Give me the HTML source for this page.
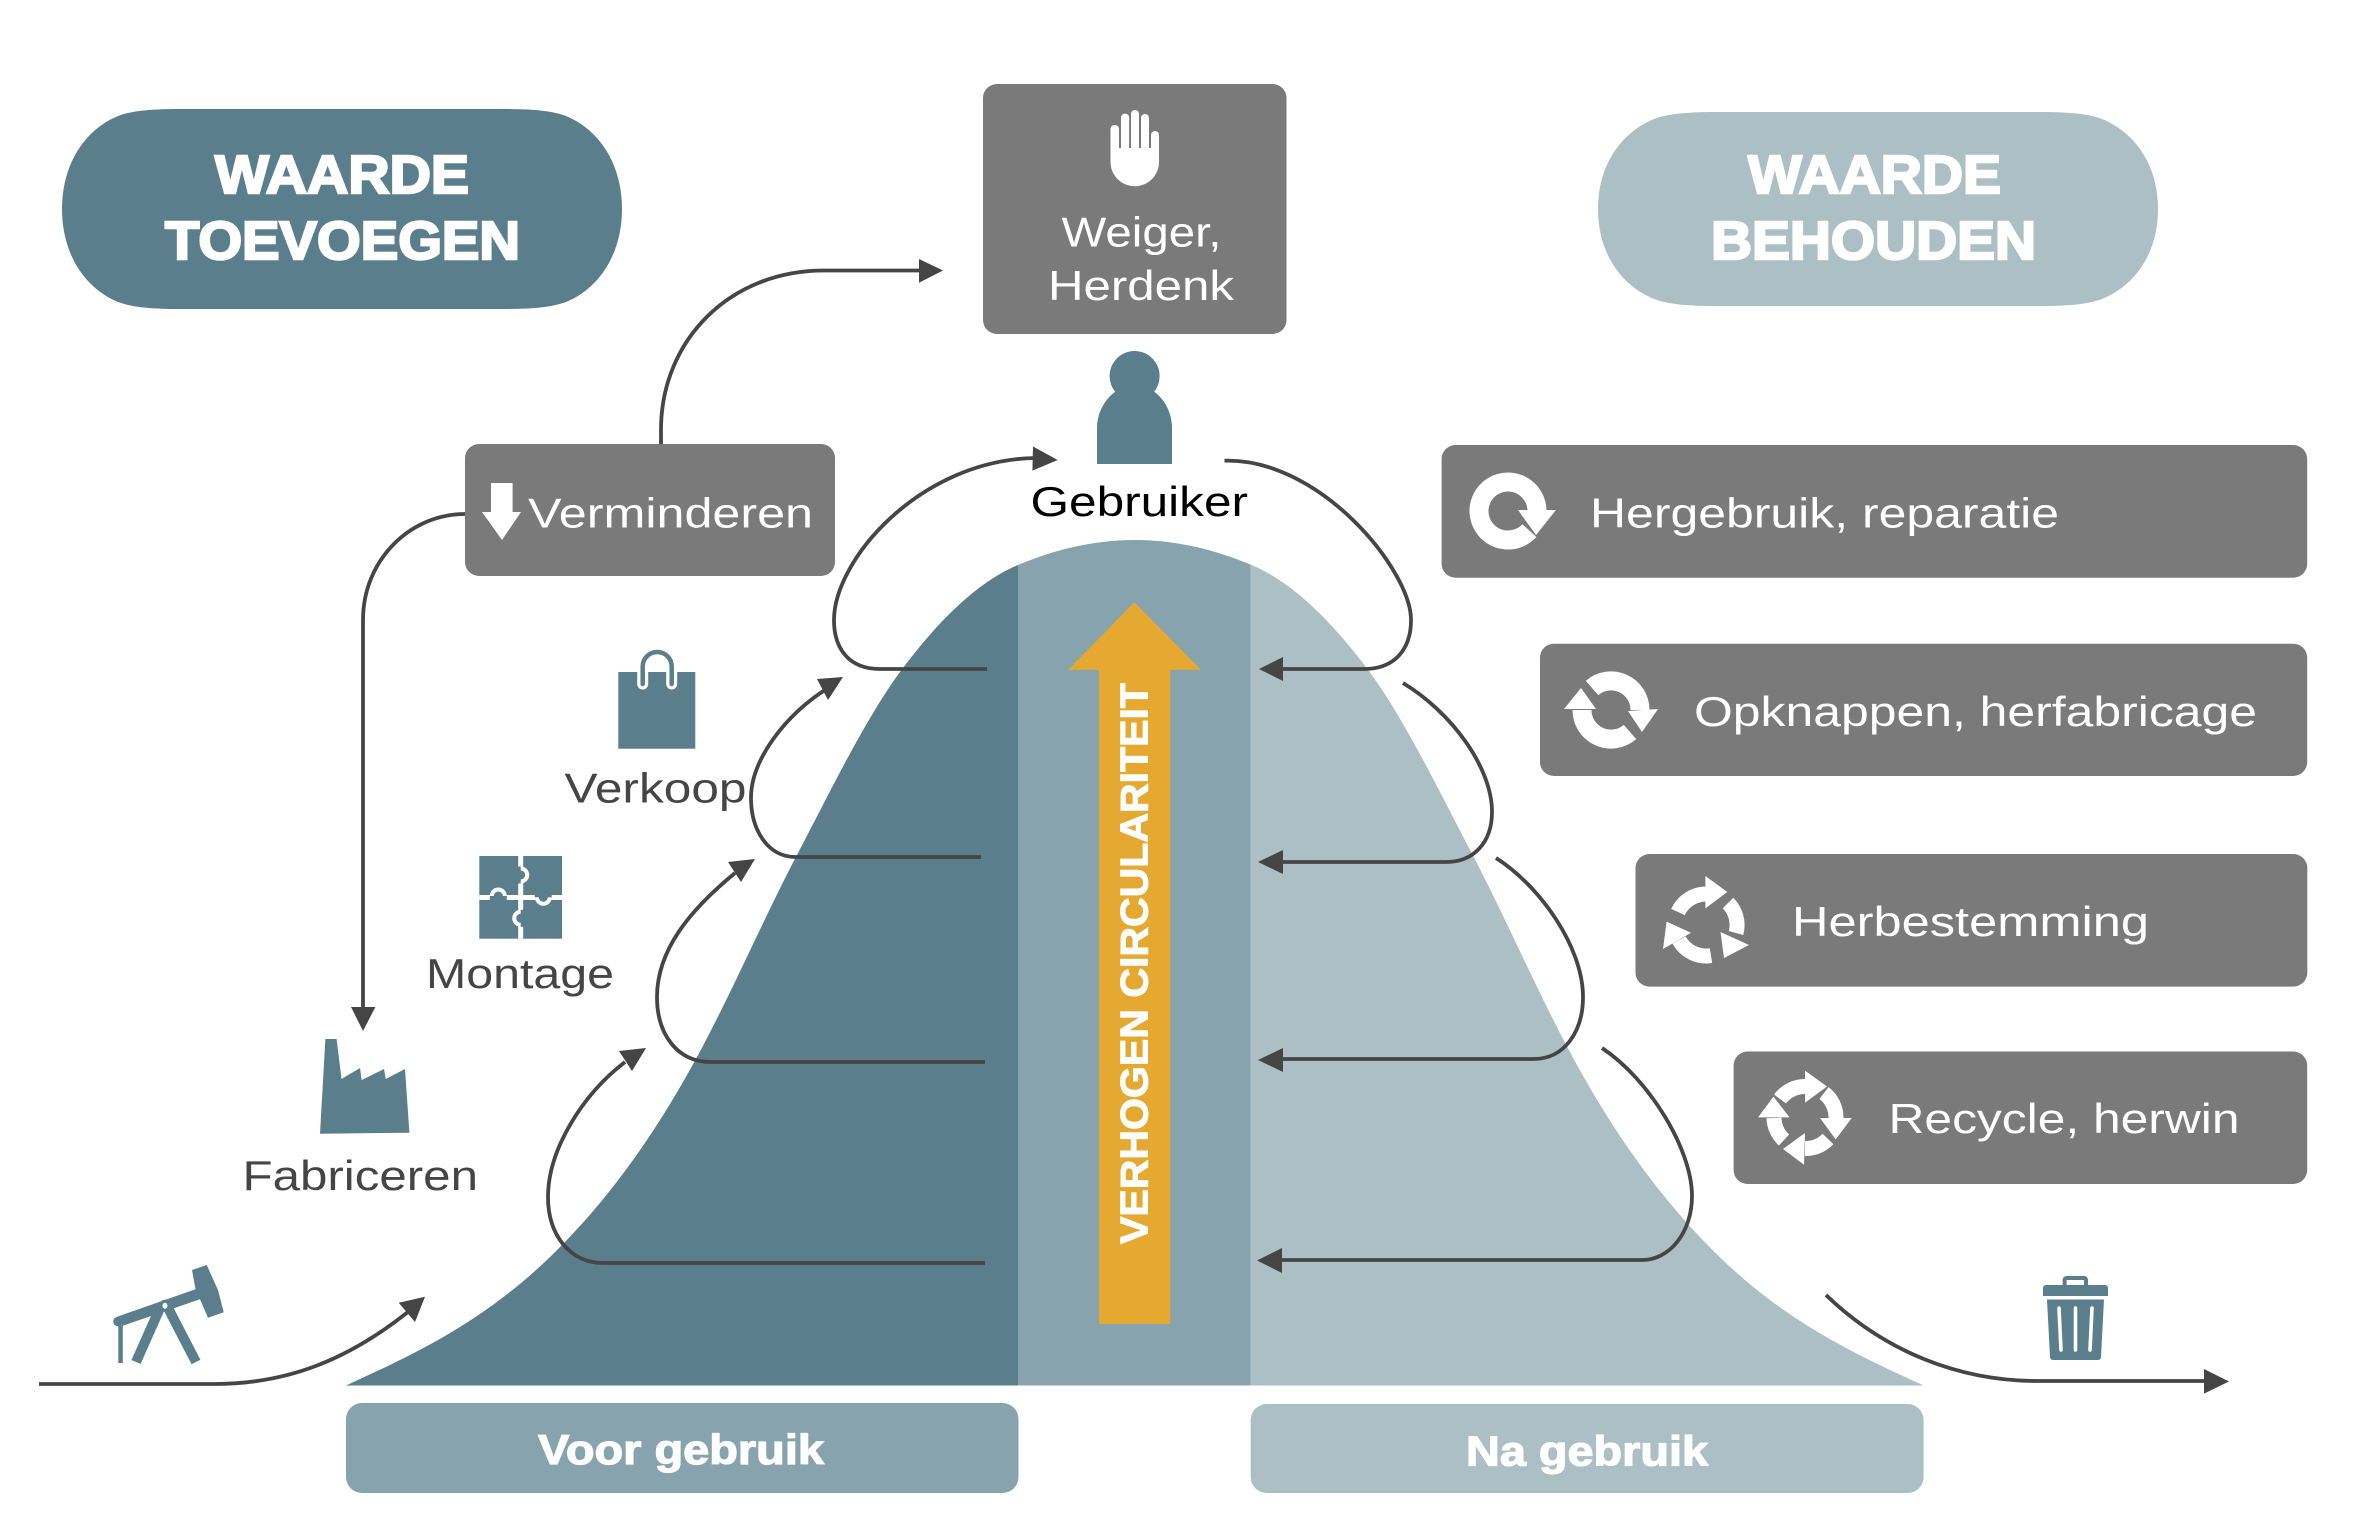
<!DOCTYPE html>
<html><head><meta charset="utf-8"><style>
html,body{margin:0;padding:0;background:#fff}
svg{display:block}
text{font-family:"Liberation Sans",sans-serif}
.w{fill:#fff;font-size:42px}
.d{fill:#454545;font-size:42px}
.h{fill:#fff;stroke:#fff;stroke-width:2.4px;font-weight:bold;font-size:54px}
.b{fill:#fff;stroke:#fff;stroke-width:1.2px;font-weight:bold;font-size:42px}
.l{fill:none;stroke:#454545;stroke-width:3.8}
.a{fill:#454545}
.t{fill:#5b7e8d}
.i{fill:none;stroke:#fff}
</style></head><body>
<svg width="2362" height="1513" viewBox="0 0 2362 1513" xmlns="http://www.w3.org/2000/svg">
<rect width="2362" height="1513" fill="#fff"/>
<defs>
<clipPath id="bell"><path d="M346 1385.5 C418 1352.6 490 1319 562 1245 C607 1199 652 1140 697 1057 C730.7 995 764.3 917 798 853 C832 788 866 718 900 672 C939.3 619 978.7 581.5 1018 565 C1057 548.6 1096 540 1134.8 540 C1173.6 540 1212.6 548.6 1251.6 565 C1290.9 581.5 1330.3 619 1369.6 672 C1403.6 718 1437.6 788 1471.6 853 C1505.3 917 1538.9 995 1572.6 1057 C1617.6 1140 1662.6 1199 1707.6 1245 C1779.6 1319 1851.6 1352.6 1923.6 1385.5 Z"/></clipPath>
</defs>

<!-- pills -->
<path fill="#5b7e8d" d="M180 109 H504 C540 109 555 112 566 116 C600 130 622 165 622 209 C622 253 600 288 566 302 C555 306 540 309 504 309 H180 C144 309 129 306 118 302 C84 288 62 253 62 209 C62 165 84 130 118 116 C129 112 144 109 180 109Z"/>
<text class="h" x="215" y="193" textLength="254" lengthAdjust="spacingAndGlyphs">WAARDE</text>
<text class="h" x="165" y="259" textLength="355" lengthAdjust="spacingAndGlyphs">TOEVOEGEN</text>
<path fill="#acbfc4" d="M1716 112 H2040 C2076 112 2091 115 2102 119 C2136 133 2158 166 2158 209 C2158 252 2136 285 2102 299 C2091 303 2076 306 2040 306 H1716 C1680 306 1665 303 1654 299 C1620 285 1598 252 1598 209 C1598 166 1620 133 1654 119 C1665 115 1680 112 1716 112Z"/>
<text class="h" x="1748" y="193" textLength="253" lengthAdjust="spacingAndGlyphs">WAARDE</text>
<text class="h" x="1711" y="259" textLength="325" lengthAdjust="spacingAndGlyphs">BEHOUDEN</text>

<!-- bell -->
<g clip-path="url(#bell)">
<rect x="340" y="530" width="678" height="856" fill="#5b7e8d"/>
<rect x="1018" y="530" width="232.7" height="856" fill="#87a4ae"/>
<rect x="1250.7" y="530" width="680" height="856" fill="#acbfc4"/>
</g>

<!-- orange arrow -->
<path fill="#e5a830" d="M1134.3 602.3 L1201 669.7 H1170.3 V1324 H1099 V669.7 H1068.3 Z"/>
<text transform="translate(1147.3 1244) rotate(-90)" x="0" y="0" fill="#fff" stroke="#fff" stroke-width="1" font-weight="bold" font-size="39" textLength="561" lengthAdjust="spacingAndGlyphs">VERHOGEN CIRCULARITEIT</text>

<!-- bottom labels -->
<rect x="346" y="1403" width="672.5" height="90" rx="16" fill="#87a4ae"/>
<text class="b" x="538" y="1464" textLength="286" lengthAdjust="spacingAndGlyphs">Voor gebruik</text>
<rect x="1250.7" y="1404" width="672.9" height="89" rx="16" fill="#acbfc4"/>
<text class="b" x="1466" y="1465.7" textLength="242" lengthAdjust="spacingAndGlyphs">Na gebruik</text>

<!-- grey boxes -->
<rect x="983" y="84" width="303.5" height="250" rx="14" fill="#7a7a7a"/>
<rect x="465" y="444" width="370" height="132" rx="14" fill="#7a7a7a"/>
<rect x="1441.6" y="445" width="865.6" height="132.7" rx="14" fill="#7a7a7a"/>
<rect x="1540" y="643.7" width="767.2" height="132.3" rx="14" fill="#7a7a7a"/>
<rect x="1635.5" y="854" width="671.8" height="132.6" rx="14" fill="#7a7a7a"/>
<rect x="1733.6" y="1051.5" width="573.6" height="132.5" rx="14" fill="#7a7a7a"/>

<!-- box text -->
<text class="w" x="1061.5" y="246.4" textLength="160" lengthAdjust="spacingAndGlyphs">Weiger,</text>
<text class="w" x="1048" y="300" textLength="186" lengthAdjust="spacingAndGlyphs">Herdenk</text>
<text class="w" x="528" y="527.7" textLength="285" lengthAdjust="spacingAndGlyphs">Verminderen</text>
<text class="w" x="1590" y="527.7" textLength="469" lengthAdjust="spacingAndGlyphs">Hergebruik, reparatie</text>
<text class="w" x="1694" y="726" textLength="563" lengthAdjust="spacingAndGlyphs">Opknappen, herfabricage</text>
<text class="w" x="1792" y="935.8" textLength="357" lengthAdjust="spacingAndGlyphs">Herbestemming</text>
<text class="w" x="1888.5" y="1133" textLength="351" lengthAdjust="spacingAndGlyphs">Recycle, herwin</text>

<text x="1030.5" y="516" fill="#000" font-size="42" textLength="217.5" lengthAdjust="spacingAndGlyphs">Gebruiker</text>
<text class="d" x="564.5" y="802.7" textLength="182" lengthAdjust="spacingAndGlyphs">Verkoop</text>
<text class="d" x="426" y="988" textLength="188" lengthAdjust="spacingAndGlyphs">Montage</text>
<text class="d" x="242.5" y="1190" textLength="235.5" lengthAdjust="spacingAndGlyphs">Fabriceren</text>

<!-- connectors -->
<path class="l" d="M661 444 V430 C661 340 730 270.5 824 270.5 H920"/>
<polygon class="a" points="919,259 943,270.5 919,282.7"/>
<path class="l" d="M465 514 C410 514 363 560 363 620 V1008"/>
<polygon class="a" points="351,1007 375.4,1007 363,1031"/>

<path class="l" d="M39 1384 H214 C290 1384 350 1358 408 1312"/>
<polygon class="a" points="398.7,1302.7 425,1296.7 415,1322"/>

<path class="l" d="M985 1263 H603 C570 1263 548 1235 548 1197 C548 1150 582 1095 625 1062"/>
<polygon class="a" points="619,1051 646,1048 632,1071"/>
<path class="l" d="M985 1062 H710 C678 1062 657 1035 657 997 C657 950 690 910 735 873"/>
<polygon class="a" points="728,862 755,859 741,882"/>
<path class="l" d="M981 857 H795 C768 857 751 830 751 798 C751 760 785 715 828 688"/>
<polygon class="a" points="817,679 843,677 828,700"/>
<path class="l" d="M987 669 H880 C850 669 834 650 834 620 C834 560 920 460 1035 458"/>
<polygon class="a" points="1033,446.5 1057.7,460 1032.4,470.6"/>

<path class="l" d="M1224.5 460.7 C1320 458 1411 570 1411 620 C1411 650 1394 669 1364 669 H1270"/>
<polygon class="a" points="1259,669 1283,657 1283,681"/>
<path class="l" d="M1403 683 C1451 712 1492 767 1492 812 C1492 842 1474 862 1446 862 H1270"/>
<polygon class="a" points="1258,862 1283,850 1283,874"/>
<path class="l" d="M1496 858 C1540 886 1583 947 1583 997 C1583 1032 1564 1059 1534 1059 H1270"/>
<polygon class="a" points="1258,1060 1283,1048 1283,1072"/>
<path class="l" d="M1602 1048 C1650 1080 1692 1150 1692 1196 C1692 1232 1670 1260 1642 1260 H1275"/>
<polygon class="a" points="1257,1260.5 1282,1248 1282,1273"/>

<path class="l" d="M1826 1295 C1885 1352 1960 1381 2037 1381 H2206"/>
<polygon class="a" points="2204,1369 2229,1381.5 2204,1393.6"/>

<!-- hand -->
<g fill="#fff">
<rect x="1110.5" y="125" width="8.5" height="40" rx="4"/>
<rect x="1121" y="113.6" width="8.2" height="50" rx="4"/>
<rect x="1131" y="110" width="8" height="52" rx="4"/>
<rect x="1141" y="114" width="8" height="50" rx="4"/>
<rect x="1151" y="131" width="8" height="36" rx="4"/>
<path d="M1110.5 148 H1159 V162 A24.25 24.25 0 0 1 1110.5 162 Z"/>
</g>
<g fill="#7a7a7a">
<rect x="1119" y="120" width="2" height="28"/><rect x="1129.2" y="120" width="1.8" height="28"/>
<rect x="1139" y="120" width="2" height="28"/><rect x="1149" y="125" width="2" height="23"/>
</g>

<!-- person -->
<circle class="t" cx="1134.6" cy="376" r="25"/>
<path class="t" d="M1097 464 V428 C1097 405 1115 385 1135 385 C1155 385 1172 405 1172 428 V464 Z"/>

<!-- down arrow -->
<path fill="#fff" d="M491 483 H512.6 V512 H521 L502 540 L482 512 H491 Z"/>

<!-- reuse icon -->
<path class="i" stroke-width="19" d="M1529.4 530.6 A29 29 0 1 1 1537 511"/>
<polygon fill="#fff" points="1518,510 1556,510 1536,535"/>

<!-- refurbish icon -->
<path class="i" stroke-width="19" d="M1592 688 A29 29 0 0 1 1640 710"/>
<polygon fill="#fff" points="1628,711 1658,709 1642,732"/>
<path class="i" stroke-width="19" d="M1630 732 A29 29 0 0 1 1582 710"/>
<polygon fill="#fff" points="1564,709 1596,709 1581,688"/>

<!-- repurpose icon -->
<path class="i" stroke-width="15" d="M1678 912 A31 31 0 0 1 1706 894"/>
<polygon fill="#fff" points="1705.4,876 1727.3,892 1705.4,908.4"/>
<path class="i" stroke-width="15" d="M1728 903 A31 31 0 0 1 1736 933"/>
<polygon fill="#fff" points="1720.5,932 1749,945 1724,958"/>
<path class="i" stroke-width="15" d="M1711 955.6 A31 31 0 0 1 1679 940"/>
<polygon fill="#fff" points="1663,949 1666.6,921.6 1691,932.7"/>

<!-- recycle icon -->
<path class="i" stroke-width="15" d="M1780 1099 A31 31 0 0 1 1805 1086.5"/>
<polygon fill="#fff" points="1805,1070.6 1827,1086.5 1805,1102.8"/>
<path class="i" stroke-width="15" d="M1824 1093 A31 31 0 0 1 1836 1118"/>
<polygon fill="#fff" points="1820,1118 1851.7,1118 1835.7,1139.5"/>
<path class="i" stroke-width="15" d="M1828 1139 A31 31 0 0 1 1805 1148.5"/>
<polygon fill="#fff" points="1805,1133 1783,1149 1804,1164.7"/>
<path class="i" stroke-width="15" d="M1784 1140 A31 31 0 0 1 1774 1118"/>
<polygon fill="#fff" points="1773.5,1096.6 1789.5,1117.4 1758,1117.4"/>

<!-- trash -->
<path class="t" d="M2062.6 1285 V1280 A4 4 0 0 1 2066.6 1276 H2084 A4 4 0 0 1 2088 1280 V1285 H2084 V1280 H2066.6 V1285 Z"/>
<path class="t" d="M2043 1296 V1288 A3 3 0 0 1 2046 1285 H2105 A3 3 0 0 1 2108 1288 V1296 Z"/>
<path class="t" d="M2047 1299.5 H2104 L2101 1357 A3 3 0 0 1 2098 1360 H2053 A3 3 0 0 1 2050 1357 Z"/>
<g stroke="#fff" stroke-width="3.6" stroke-linecap="round" fill="none">
<path d="M2059 1308 L2061 1350"/><path d="M2075.5 1308 V1350"/><path d="M2092 1308 L2090 1350"/>
</g>

<!-- factory -->
<polygon class="t" points="325.4,1039 336.6,1039 341.5,1079 360,1068 361.6,1080 384,1069 385.7,1079 405,1069 409.4,1132.7 320,1133.7"/>

<!-- pumpjack -->
<polygon class="t" points="117,1316.7 195.5,1289.3 192,1270 206.7,1265 218,1290 223.7,1312.3 208,1317.7 200,1299.3 122.8,1325.7"/>
<circle class="t" cx="118" cy="1321.5" r="4.8"/>
<rect class="t" x="118.3" y="1325" width="4.5" height="38"/>
<path stroke="#5b7e8d" stroke-width="10" fill="none" d="M160 1308 L136 1362 M168 1308 L196 1362"/>
<circle class="t" cx="165" cy="1305.7" r="6"/>
<ellipse cx="165" cy="1305.7" rx="2.5" ry="3" fill="#fff"/>

<!-- bag -->
<rect class="t" x="618.3" y="672" width="77" height="76.7"/>
<path d="M642.7 684 V666.5 A14.5 14.5 0 0 1 671.7 666.5 V684" fill="none" stroke="#fff" stroke-width="11" stroke-linecap="round"/>
<path d="M642.7 684 V666.5 A14.5 14.5 0 0 1 671.7 666.5 V684" fill="none" stroke="#5b7e8d" stroke-width="4.5" stroke-linecap="round"/>

<!-- puzzle -->
<rect class="t" x="479.3" y="856" width="82.7" height="82.7"/>
<rect x="518.2" y="856" width="5" height="82.7" fill="#fff"/>
<rect x="479.3" y="895" width="82.7" height="5" fill="#fff"/>
<g fill="#5b7e8d" stroke="#fff" stroke-width="4">
<circle cx="520.7" cy="875" r="6.5"/><circle cx="498.3" cy="896" r="6.5"/>
<circle cx="543.3" cy="897.3" r="6.5"/><circle cx="520.7" cy="918.3" r="6.5"/>
</g>
<g fill="#5b7e8d">
<rect x="511" y="866.5" width="9.7" height="17"/>
<rect x="489.8" y="896" width="17" height="9"/>
<rect x="534.8" y="888" width="17" height="9.3"/>
<rect x="520.7" y="909.8" width="9.7" height="17"/>
</g>
</svg>
</body></html>
